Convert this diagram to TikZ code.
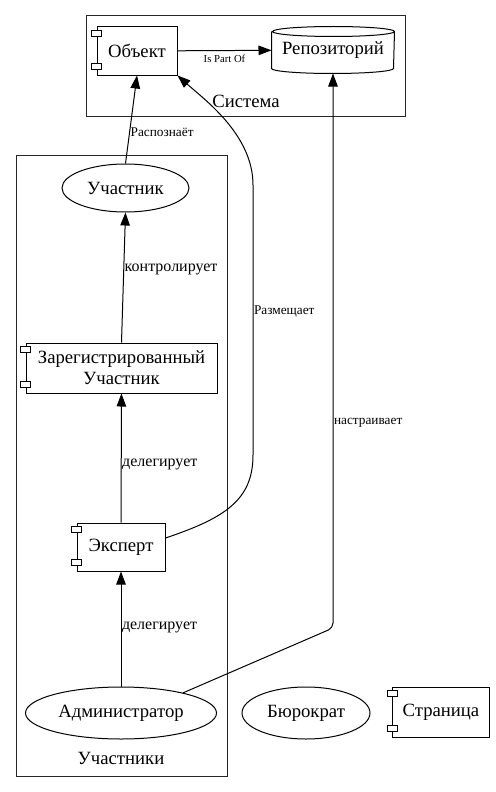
\documentclass[tikz,border=0pt]{standalone}
\usepackage{fontspec}
\setmainfont{Liberation Serif}
\usetikzlibrary{arrows.meta,shapes.geometric,positioning}

% small tabs on the left side of a component box
\newcommand{\comptabs}[1]{%
	\draw[fill=white] ([xshift=-5pt,yshift=-4pt]#1.north west) rectangle ++(10pt,-6pt);
	\draw[fill=white] ([xshift=-5pt,yshift=6pt]#1.south west) rectangle ++(10pt,6pt);
}

\begin{document}
\begin{tikzpicture}[
			x=1pt, y=-1pt,
			line width=1pt,
			>={Triangle[length=13pt,width=9.5pt]},
			big text/.style={font=\fontsize{18.7}{21}\selectfont},
			comp/.style={draw, rectangle, inner sep=0pt, big text},
			oval/.style={draw, ellipse, inner sep=0pt, big text},
			cluster/.style={draw, black!85},
			edge label/.style={font=\fontsize{16}{18}\selectfont, anchor=west, inner sep=0.5pt},
			small label/.style={font=\fontsize{13.3}{15}\selectfont, anchor=west, inner sep=0.5pt},
			tiny label/.style={font=\fontsize{10.7}{12}\selectfont}
			]
			\useasboundingbox (0,0) rectangle (495,792);
			
			% clusters
			\draw [cluster] (86,16) rectangle (405,116);
			\node[big text] (system) at (246,101) {Система};
			\draw [cluster] (16,155) rectangle (227,776);
			\node[big text] (members) at (121,758) {Участники};
			
			\node[comp, minimum width=80pt, minimum height=48pt] (obj) at (137,51) {Объект};
			\node[big text, inner sep=0pt, minimum width=122pt, minimum height=46pt] (repo) at (333,50) {Репозиторий};
			\draw ([yshift=-5pt]repo.north west) -- ([yshift=5pt]repo.south west)
				arc[start angle=180, end angle=360, x radius=61pt, y radius=5pt]
				-- ([yshift=-5pt]repo.north east)
				arc[start angle=0, end angle=180, x radius=61pt, y radius=5pt]
				arc[start angle=180, end angle=360, x radius=61pt, y radius=5pt];
			
			\node[oval, minimum width=127pt, minimum height=48pt] (member) at (125.5,188) {Участник};
			\node[comp, align=center, minimum width=191pt, minimum height=50pt] (reg) at (121.5,368) {Зарегистрированный\\Участник};
			\node[comp, minimum width=88pt, minimum height=48pt] (expert) at (121,547) {Эксперт};
			\node[oval, minimum width=191pt, minimum height=52pt] (admin) at (121,713) {Администратор};
			\node[oval, minimum width=128pt, minimum height=52pt] (bureau) at (306,713) {Бюрократ};
			\node[comp, minimum width=97pt, minimum height=50pt] (page) at (441,712) {Страница};
			
			\foreach \n in {obj, reg, expert, page} {
				\comptabs{\n}
			}
			
			\coordinate (placeup) at (253,185);
			\coordinate (placedown) at (253,455);
			\coordinate (tunebend) at (333,628);
			
			\draw[->] (obj) -- node[tiny label, below=1pt] {Is Part Of} (repo);
			\draw[->] (member.north) -- node[small label, pos=0.36] {Распознаёт} (obj.south);
			\draw[->] (reg.north) -- node[edge label, pos=0.56] {контролирует} (member.south);
			\draw[->] (expert) -- node[edge label, pos=0.45] {делегирует} (reg);
			\draw[->] (admin) -- node[edge label, pos=0.51] {делегирует} (expert);
			\draw[->] ([yshift=9pt]expert.east) .. controls (225,518) and (253,500) .. (placedown)
				-- node[small label, pos=0.53] {Размещает} (placeup)
				.. controls (253,135) and (205,100) .. (obj.south east);
			\draw[->, rounded corners=5pt] (admin.18) -- (tunebend)
				-- node[small label, pos=0.37] {настраивает} (repo.south);
			
		\end{tikzpicture}
\end{document}
